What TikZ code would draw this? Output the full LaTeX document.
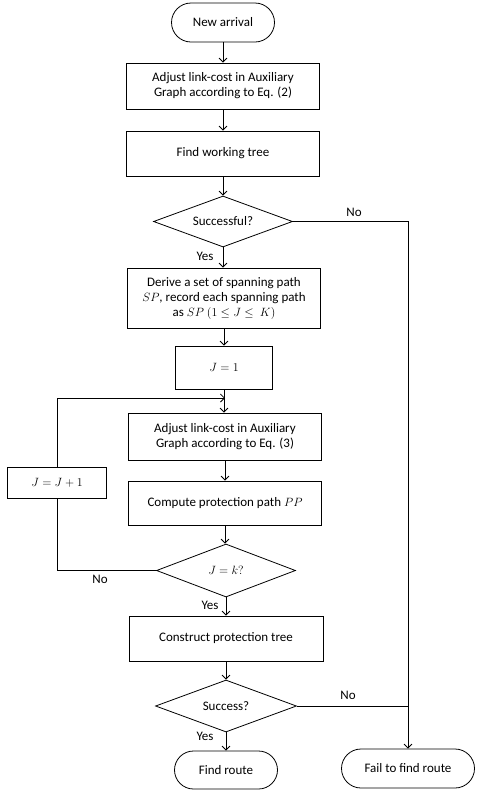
\documentclass[tikz,border=0pt]{standalone}
\usepackage{fontspec}
\setmainfont{Carlito}
\usetikzlibrary{shapes.geometric,shapes.misc,arrows.meta}
\begin{document}
\begin{tikzpicture}[x=1pt,y=-1pt,
  font=\fontsize{13}{15}\selectfont,
  every node/.style={inner sep=0pt},
  procbox/.style={draw,line width=0.8pt,minimum width=193pt,align=center},
  term/.style={draw,line width=0.8pt,rounded rectangle,align=center},
  decision/.style={draw,line width=0.8pt,diamond,aspect=2.7},
  flow/.style={line width=0.8pt,-{Straight Barb[length=4pt,width=8pt]}},
  plain/.style={line width=0.8pt},
  lbl/.style={font=\fontsize{13}{15}\selectfont}]
\useasboundingbox (0,0) rectangle (482,793);
\node[term,minimum width=103pt,minimum height=39pt] (arrival) at (223,22.5) {New arrival};
\node[procbox,minimum height=46pt] (adj2) at (223,86) {Adjust link-cost in Auxiliary\\Graph according to Eq. (2)};
\node[procbox,minimum height=45pt] (find) at (223,153.5) {Find working tree};
\node[decision,minimum width=139pt,minimum height=51pt] (succ) at (223,221.5) {Successful?};
\node[procbox,minimum height=60pt] (derive) at (224,298) {Derive a set of spanning path\\$SP$, record each spanning path\\as $SP\ (1 \le J \le\ K)$};
\node[procbox,minimum width=97pt,minimum height=43pt] (j1) at (224,367.5) {$J = 1$};
\node[procbox,minimum height=47pt] (adj3) at (225,436.5) {Adjust link-cost in Auxiliary\\Graph according to Eq. (3)};
\node[procbox,minimum height=44pt] (comp) at (225,503) {Compute protection path $PP$};
\node[procbox,minimum width=99pt,minimum height=31pt] (jinc) at (57,482.5) {$J = J + 1$};
\node[decision,minimum width=139pt,minimum height=53pt] (jk) at (226,570.5) {$J = k?$};
\node[procbox,minimum width=194pt,minimum height=45pt] (constr) at (226,638.5) {Construct protection tree};
\node[decision,minimum width=141pt,minimum height=52pt] (succ2) at (226,706) {Success?};
\node[term,minimum width=103pt,minimum height=38pt] (route) at (226,770) {Find route};
\node[term,minimum width=133pt,minimum height=39pt] (fail) at (408,768.5) {Fail to find route};
\coordinate (merge) at (adj3.north |- 0,398);
\coordinate (loopTop) at (jinc.north |- 0,398);
\coordinate (loopBot) at (jinc.south |- jk.west);
\coordinate (rightTop) at (fail.north |- succ.east);
\coordinate (rightMid) at (fail.north |- succ2.east);
\draw[flow] (arrival.south) -- (arrival.south |- adj2.north);
\draw[flow] (adj2.south) -- (adj2.south |- find.north);
\draw[flow] (find.south) -- (find.south |- succ.north);
\draw[flow] (succ.south) -- (succ.south |- derive.north);
\draw[flow] (derive.south) -- (derive.south |- j1.north);
\draw[flow] (j1.south) -- (j1.south |- adj3.north);
\draw[flow] (adj3.south) -- (adj3.south |- comp.north);
\draw[flow] (comp.south) -- (comp.south |- jk.north);
\draw[flow] (jk.south) -- (jk.south |- constr.north);
\draw[flow] (constr.south) -- (constr.south |- succ2.north);
\draw[flow] (succ2.south) -- (succ2.south |- route.north);
\draw[plain] (jk.west) -- (loopBot) -- (jinc.south);
\draw[flow] (jinc.north) -- (loopTop) -- (merge);
\draw[flow] (succ.east) -- (rightTop) -- (fail.north);
\draw[plain] (succ2.east) -- (rightMid);
\node[lbl] (no1) at (354,212) {No};
\node[lbl] (yes1) at (205,256) {Yes};
\node[lbl] (no2) at (100,579) {No};
\node[lbl] (yes2) at (210,605) {Yes};
\node[lbl] (no3) at (348,695) {No};
\node[lbl] (yes3) at (205,736) {Yes};
\end{tikzpicture}
\end{document}
